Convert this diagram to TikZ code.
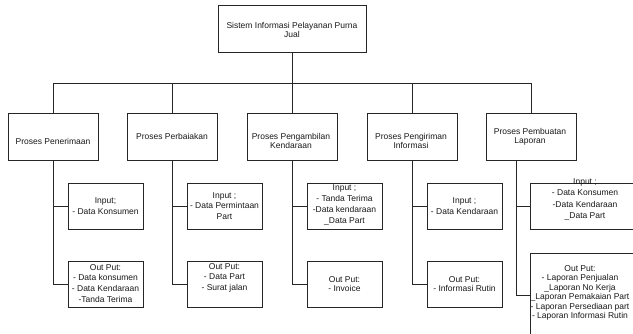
\documentclass[tikz,border=0pt]{standalone}
\usepackage{fontspec}
\setmainfont{Liberation Sans}
\begin{document}
\begin{tikzpicture}[x=1pt,y=-1pt,
  frame/.style={draw=black!85, line width=0.8pt, fill=white, inner sep=0pt},
  conn/.style={draw=black!85, line width=0.8pt},
  lbl/.style={font=\fontsize{8.5}{10.5}\selectfont, text=black!90, align=center, inner sep=0pt},
  tight/.style={lbl, font=\fontsize{8.5}{9}\selectfont},
  procbox/.style={frame, minimum width=90pt, minimum height=47pt},
  iobox/.style={frame, minimum width=75pt, minimum height=46pt},
  widebox/.style={frame, minimum width=110pt, minimum height=46pt}
]
\useasboundingbox (0,0) rectangle (633,334);
\fill[white] (0,0) rectangle (633,334);
\clip (0,0) rectangle (633,334);

% root of the hierarchy
\node[frame, minimum width=148pt, minimum height=47pt] (top) at (292,28.5) {};
\node[tight] (ttop) at (292,29.5) {Sistem Informasi Pelayanan Purna\\Jual};

% processes
\node[procbox] (p1) at (53,136.5) {};
\node[procbox] (p2) at (172,136.5) {};
\node[procbox] (p3) at (292,136.5) {};
\node[procbox] (p4) at (412,136.5) {};
\node[procbox] (p5) at (531,136.5) {};
\node[tight] (tp1) at (53,141.5) {Proses Penerimaan};
\node[tight] (tp2) at (172,136.7) {Proses Perbaiakan};
\node[tight] (tp3) at (291,141.2) {Proses Pengambilan\\Kendaraan};
\node[tight] (tp4) at (411,141.2) {Proses Pengiriman\\Informasi};
\node[tight] (tp5) at (530,137) {Proses Pembuatan\\Laporan};

% inputs
\node[iobox] (in1) at (105.5,206) {};
\node[iobox] (in2) at (224.5,206) {};
\node[iobox] (in3) at (344.5,206) {};
\node[iobox] (in4) at (464.5,206) {};
\node[widebox] (in5) at (585,206) {};

% outputs
\node[iobox] (out1) at (105.5,284) {};
\node[iobox] (out2) at (224.5,284) {};
\node[iobox] (out3) at (344.5,284) {};
\node[iobox] (out4) at (464.5,284) {};
\node[frame, minimum width=110pt, minimum height=84pt] (out5) at (585,295) {};

% connectors between levels
\coordinate (bar) at (292,83);
\draw[conn] (top.south) -- (top.south |- bar);
\draw[conn] (p1.north) -- (p1.north |- bar) -- (p5.north |- bar) -- (p5.north);
\foreach \i in {2,3,4} \draw[conn] (p\i.north) -- (p\i.north |- bar);
\foreach \i in {1,2,3,4} {
  \draw[conn] (p\i.south) |- (out\i.west);
  \draw[conn] (p\i.south |- in\i.west) -- (in\i.west);
}
\draw[conn] ([xshift=-15pt]p5.south) |- (out5.west);
\draw[conn] ([xshift=-15pt]p5.south |- in5.west) -- (in5.west);

% input texts
\node[lbl, font=\fontsize{8.5}{11.7}\selectfont] (ti1) at (105.5,206) {Input;\\- Data Konsumen};
\node[lbl, font=\fontsize{8.5}{10.8}\selectfont] (ti2) at (224.5,206) {Input ;\\- Data Permintaan\\Part};
\node[lbl, font=\fontsize{8.5}{11.1}\selectfont] (ti3) at (344.5,205) {Input ;\\- Tanda Terima\\-Data kendaraan\\\_Data Part};
\node[lbl, font=\fontsize{8.5}{11}\selectfont] (ti4) at (464.5,206) {Input ;\\- Data Kendaraan};
\node[lbl, font=\fontsize{8.5}{11.3}\selectfont] (ti5) at (585,199.5) {Input ;\\- Data Konsumen\\-Data Kendaraan\\\_Data Part};

% output texts
\node[lbl, font=\fontsize{8.5}{10.6}\selectfont] (to1) at (105.5,283.3) {Out Put:\\- Data konsumen\\- Data Kendaraan\\-Tanda Terima};
\node[lbl] (to2) at (224.5,277.5) {Out Put:\\- Data Part\\- Surat jalan};
\node[tight] (to3) at (344.5,284.5) {Out Put:\\- Invoice};
\node[tight] (to4) at (464.5,284.5) {Out Put:\\- Informasi Rutin};
\node[lbl, font=\fontsize{8.5}{9.5}\selectfont] (to5) at (580,293) {Out Put:\\- Laporan Penjualan\\\_Laporan No Kerja\\\_Laporan Pemakaian Part\\- Laporan Persediaan part\\- Laporan Informasi Rutin};
\end{tikzpicture}
\end{document}
